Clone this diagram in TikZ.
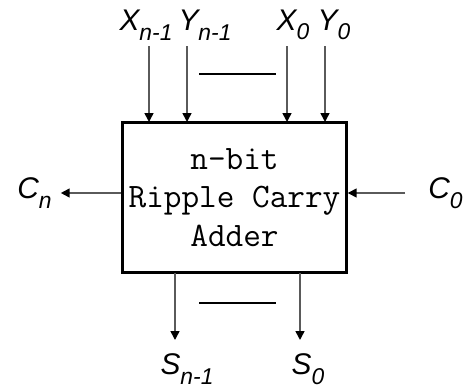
\documentclass[tikz,border=0pt]{standalone}
\usepackage{fontspec}
\setmainfont{Liberation Sans}
\usepackage{tikz}
\usetikzlibrary{arrows.meta,positioning}
\definecolor{wiregray}{HTML}{5A5A5A}
\newcommand{\sig}[2]{{\itshape #1\raisebox{-0.6ex}{\fontsize{13}{13}\selectfont #2}}}

\begin{document}
\begin{tikzpicture}[
  x=0.02cm, y=-0.02cm,
  adder/.style={draw=black, line width=1.7pt, minimum width=4.42cm, minimum height=3.02cm,
                align=center, font=\ttfamily\fontsize{19.5}{22}\selectfont},
  label/.style={inner sep=0pt, font=\fontsize{17}{17}\selectfont},
  arrow/.style={-{Triangle[length=5pt, width=5pt, color=black]}, draw=wiregray, line width=0.9pt},
  gap/.style={draw=black, line width=1.2pt}
]
  \useasboundingbox (0,0) rectangle (463,391);

  \node[adder] (rca) at (234.5,197.5) {n-bit\\Ripple Carry\\Adder};

  % inputs on top
  \node[label] (xn1) at (146,25) {\sig{X}{n-1}};
  \node[label] (yn1) at (205,25) {\sig{Y}{n-1}};
  \node[label] (x0) at (293,25) {\sig{X}{0}};
  \node[label] (y0) at (334,25) {\sig{Y}{0}};
  \coordinate (inx1) at (149,122);
  \coordinate (iny1) at (187,122);
  \coordinate (inx0) at (287,122);
  \coordinate (iny0) at (325,122);
  \foreach \l/\c in {xn1/inx1,yn1/iny1,x0/inx0,y0/iny0}
    \draw[arrow] (\l.south -| \c) ++(0,6) -- (\c);

  % carries
  \node[label, anchor=east] (cn) at (52,193) {\sig{C}{n}};
  \node[label, anchor=west] (c0) at (428,193) {\sig{C}{0}};
  \draw[arrow, shorten >=5pt] (rca.west |- cn) -- (cn.east);
  \draw[arrow, shorten <=13pt] (c0.west) -- (rca.east |- c0);

  % outputs
  \coordinate (outs1) at (175,273);
  \coordinate (outs0) at (300,273);
  \node[label] (sn1) at (187,369) {\sig{S}{n-1}};
  \node[label] (s0) at (308,369) {\sig{S}{0}};
  \draw[arrow] (outs1) -- (outs1 |- 0,340);
  \draw[arrow] (outs0) -- (outs0 |- 0,340);

  \draw[gap] (199,74) -- (276,74);
  \draw[gap] (199,303) -- (276,303);
\end{tikzpicture}
\end{document}
